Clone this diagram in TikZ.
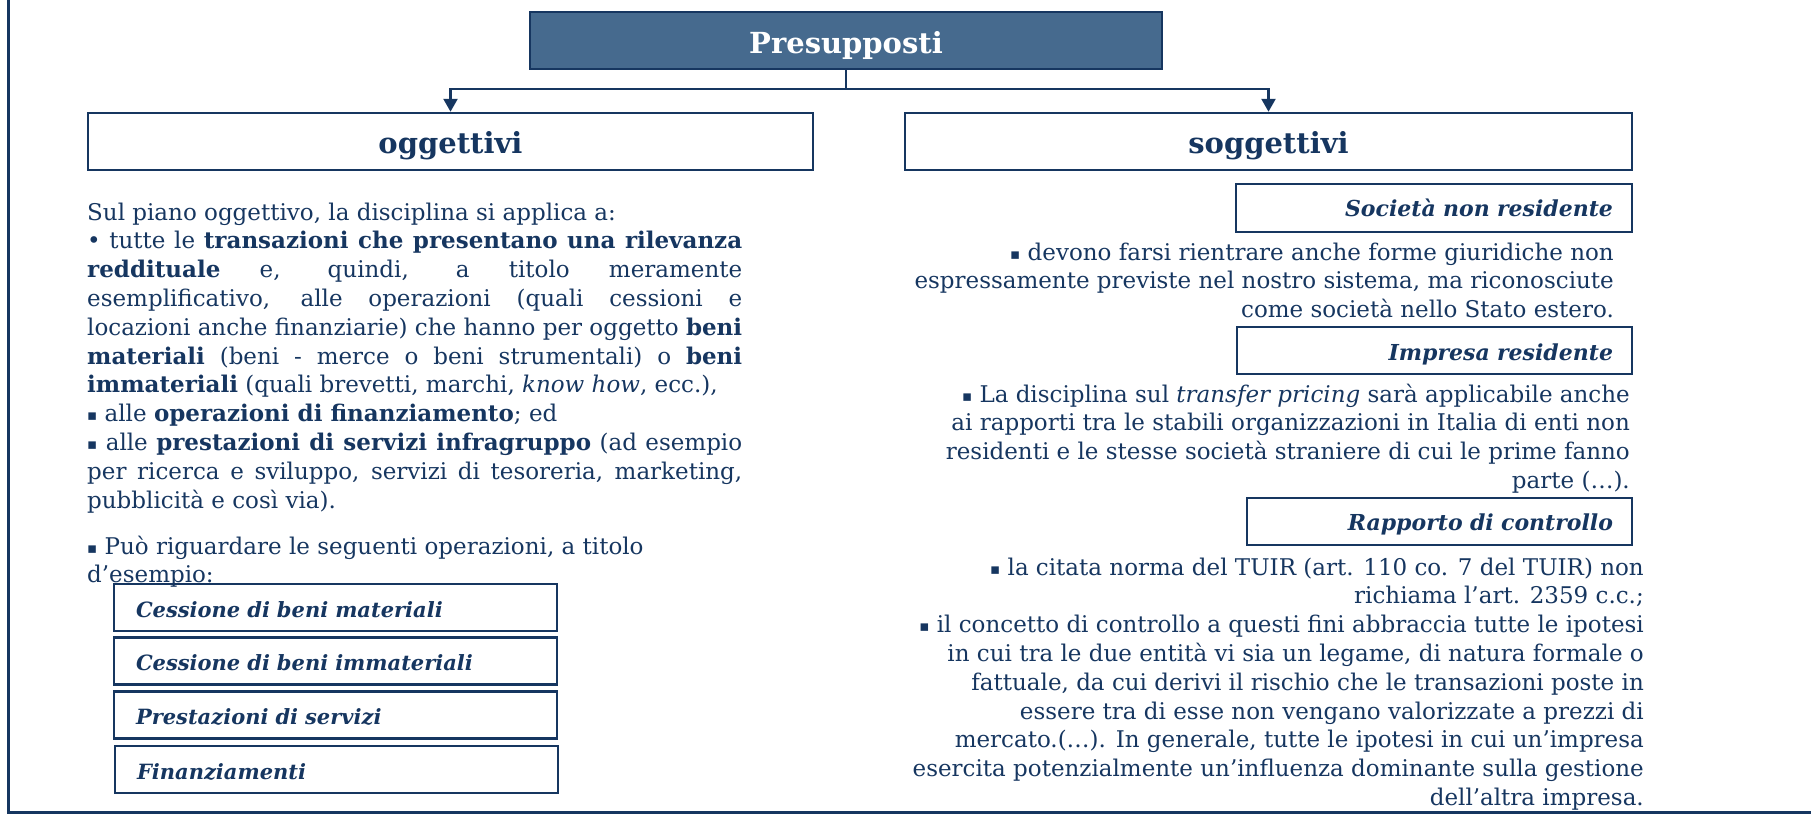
\documentclass[tikz,border=0pt]{standalone}
\usepackage{fontspec}
\setmainfont{DejaVu Serif}
\newfontfamily\symf{DejaVu Sans}
\usetikzlibrary{arrows.meta}
\definecolor{navy}{RGB}{22,54,96}
\definecolor{steel}{RGB}{70,106,142}
\newcommand{\sqb}{{\symf\fontsize{15}{15}\selectfont\raisebox{1pt}{▪}}}
\begin{document}
\begin{tikzpicture}[x=1pt,y=-1pt,
  every node/.style={text=navy, inner sep=0pt},
  boxline/.style={draw=navy, line width=2.5pt},
  conn/.style={draw=navy, line width=2.5pt},
  tip/.style={-{Triangle[width=14pt,length=13pt]}},
  bodyfont/.style={font=\fontsize{23}{28.8}\selectfont},
  headbox/.style={boxline, font=\fontsize{29}{34}\selectfont\bfseries},
  labelR/.style={boxline, font=\fontsize{22}{26}\selectfont\bfseries\itshape, align=right, inner xsep=19pt, inner ysep=0pt},
  labelL/.style={boxline, font=\fontsize{21}{25}\selectfont\bfseries\itshape, align=left, inner xsep=22pt, inner ysep=0pt, text width=399pt, text height=33pt, text depth=14pt}
]
\useasboundingbox (0,0) rectangle (1811,814);

% frame
\coordinate (ftl) at (8,0);
\coordinate (fbl) at (8,812);
\coordinate (fbr) at (1811,812);
\draw[navy, line width=3pt] (ftl) -- (fbl) -- (fbr);

% top box
\node[headbox, fill=steel, text=white, minimum width=632pt, text height=41pt, text depth=16pt] (pres) at (846,40.5) {Presupposti};

% heading boxes
\node[headbox, minimum width=725pt, text height=40pt, text depth=17pt] (ogg) at (450.5,141.5) {oggettivi};
\node[headbox, minimum width=727pt, text height=40pt, text depth=17pt] (sog) at (1268.5,141.5) {soggettivi};

% connectors
\coordinate (j) at (846,89);
\draw[conn] (pres.south) -- (j);
\draw[conn, tip] (j) -| (ogg.north);
\draw[conn, tip] (j) -| (sog.north);

% left text
\node[bodyfont, anchor=base west] (ltxt) at (87,220) {\begin{minipage}[t]{655pt}
Sul piano oggettivo, la disciplina si applica a:\\
• tutte le \textbf{transazioni che presentano una rilevanza}\linebreak
\textbf{reddituale} e, quindi, a titolo meramente\linebreak
esemplificativo, alle operazioni (quali cessioni e\linebreak
locazioni anche finanziarie) che hanno per oggetto \textbf{beni}\linebreak
\textbf{materiali} (beni - merce o beni strumentali) o \textbf{beni}\linebreak
\textbf{immateriali} (quali brevetti, marchi, \textit{know how}, ecc.),\\
\sqb\ alle \textbf{operazioni di finanziamento}; ed\\
\sqb\ alle \textbf{prestazioni di servizi infragruppo} (ad esempio\linebreak
per ricerca e sviluppo, servizi di tesoreria, marketing,\linebreak
pubblicità e così via).
\end{minipage}};

\node[bodyfont, anchor=base west] (ltxt2) at (87,554) {\begin{minipage}[t]{655pt}
\sqb\ Può riguardare le seguenti operazioni, a titolo\\
d’esempio:
\end{minipage}};

% left small boxes
\node[labelL] (b1) at (335.5,607.5) {Cessione di beni materiali};
\node[labelL] (b2) at (335.5,661) {Cessione di beni immateriali};
\node[labelL] (b3) at (335.5,715) {Prestazioni di servizi};
\node[labelL] (b4) at (336.5,769.5) {Finanziamenti};

% right label boxes
\node[labelR, text width=358pt, text height=32pt, text depth=16pt] (s1) at (1434,208) {Società non residente};
\node[labelR, text width=357pt, text height=33pt, text depth=14pt] (s2) at (1434.5,350.5) {Impresa residente};
\node[labelR, text width=347pt, text height=32pt, text depth=15pt] (s3) at (1439.5,521.5) {Rapporto di controllo};

% right texts
\node[bodyfont, anchor=base east] (r1) at (1614,260) {\begin{minipage}[t]{760pt}\raggedleft
\sqb\ devono farsi rientrare anche forme giuridiche non\\
espressamente previste nel nostro sistema, ma riconosciute\\
come società nello Stato estero.
\end{minipage}};

\node[bodyfont, anchor=base east] (r2) at (1630,402) {\begin{minipage}[t]{760pt}\raggedleft
\sqb\ La disciplina sul \textit{transfer pricing} sarà applicabile anche\\
ai rapporti tra le stabili organizzazioni in Italia di enti non\\
residenti e le stesse società straniere di cui le prime fanno\\
parte (…).
\end{minipage}};

\node[bodyfont, anchor=base east] (r3) at (1644,575) {\begin{minipage}[t]{760pt}\raggedleft
\sqb\ la citata norma del TUIR (art. 110 co. 7 del TUIR) non\\
richiama l’art. 2359 c.c.;\\
\sqb\ il concetto di controllo a questi fini abbraccia tutte le ipotesi\\
in cui tra le due entità vi sia un legame, di natura formale o\\
fattuale, da cui derivi il rischio che le transazioni poste in\\
essere tra di esse non vengano valorizzate a prezzi di\\
mercato.(…). In generale, tutte le ipotesi in cui un’impresa\\
esercita potenzialmente un’influenza dominante sulla gestione\\
dell’altra impresa.
\end{minipage}};
\end{tikzpicture}
\end{document}
